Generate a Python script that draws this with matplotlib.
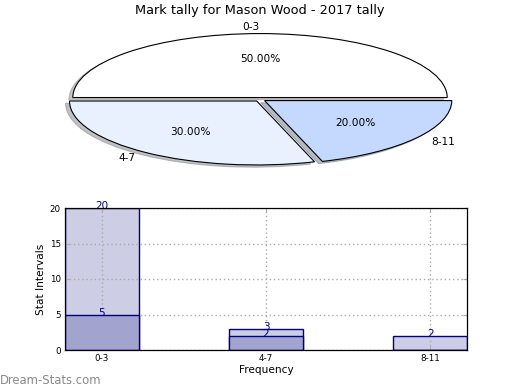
import matplotlib
matplotlib.use('Agg')
import matplotlib.pyplot as plt

# data
categories = ['0-3', '4-7', '8-11']
pie_values = [50, 30, 20]
pie_colors = ['#ffffff', '#eaf1fe', '#c5d8fe']
bar_total = [20, 3, 2]
bar_part = [5, 2, 0]

fig = plt.figure(figsize=(5.2, 3.9), dpi=100)
fig.text(0.5, 0.972, 'Mark tally for Mason Wood - 2017 tally',
         ha='center', va='center', fontsize=9.3)

# pie
ax1 = fig.add_axes([0.05, 0.54, 0.9, 0.41])
wedges, texts, autotexts = ax1.pie(
    pie_values, labels=categories, colors=pie_colors, autopct='%.2f%%',
    startangle=0, explode=[0.03] * len(pie_values),
    shadow={'ox': -0.015, 'oy': -0.025, 'shade': 0.45},
    labeldistance=1.1, pctdistance=0.6,
    wedgeprops={'edgecolor': 'black', 'linewidth': 0.8},
    textprops={'fontsize': 7.6})
ax1.set_aspect('auto')
ax1.set_xlim(-1.25, 1.25)
ax1.set_ylim(-1.25, 1.25)

# bars
ax2 = fig.add_axes([65 / 520, 40 / 390, 402 / 520, 142 / 390])
x = range(len(categories))
ax2.bar(x, bar_total, width=0.45, color='#cdcde6', edgecolor='#000080', linewidth=1, zorder=2)
ax2.bar(x, bar_part, width=0.45, color='#a3a3d0', edgecolor='#000080', linewidth=1, zorder=3)
for i in x:
    ax2.text(i, bar_total[i] + 0.3, str(bar_total[i]), ha='center', va='center',
             color='#000080', fontsize=7.5, zorder=5)
    if bar_part[i] > 0:
        ax2.text(i, bar_part[i] + 0.2, str(bar_part[i]), ha='center', va='center',
                 color='#000080', fontsize=7.5, zorder=5)
ax2.set_xlim(-0.225, 2.225)
ax2.set_ylim(0, 20)
ax2.set_yticks([0, 5, 10, 15, 20])
ax2.set_xticks(list(x))
ax2.set_xticklabels(categories)
ax2.tick_params(labelsize=6.3, direction='in', top=True, right=True, color='#aaaaaa', length=3, pad=3)
ax2.grid(True, linestyle=(0, (1, 2)), color='#aaaaaa', linewidth=1, zorder=4)
ax2.set_axisbelow(False)
ax2.set_xlabel('Frequency', fontsize=7.6, labelpad=1)
ax2.set_ylabel('Stat Intervals', fontsize=7.6, labelpad=3)
for s in ax2.spines.values():
    s.set_linewidth(0.9)
    s.set_zorder(6)

fig.text(0.0, 0.025, 'Dream-Stats.com', ha='left', va='center', fontsize=8.4, color='#8a8a8a')

fig.savefig('out.png', dpi=100)
